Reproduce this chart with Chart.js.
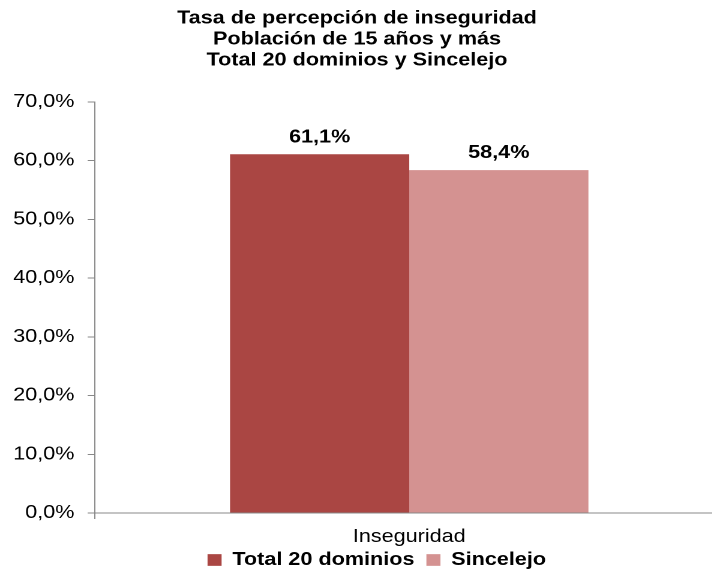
<!DOCTYPE html>
<html><head><meta charset="utf-8">
<script src="https://cdn.jsdelivr.net/npm/chart.js@4"></script>
<style>
html,body{margin:0;padding:0;overflow:hidden;background:#fff;width:712px;height:585px}
#wrap{transform:scaleX(1.2);transform-origin:0 0;width:603px;height:585px}
</style></head><body>
<div id="wrap"><canvas id="c" width="603" height="585"></canvas></div>
<script>
const categories = ['Inseguridad'];
const seriesNames = ['Total 20 dominios', 'Sincelejo'];
const total20 = [61.1];
const sincelejo = [58.4];
const yTickLabels = ['0,0%','10,0%','20,0%','30,0%','40,0%','50,0%','60,0%','70,0%'];
const titleLines = ['Tasa de percepción de inseguridad','Población de 15 años y más','Total 20 dominios y Sincelejo'];
const seriesColors = ['#AA4643','#D49291'];

const FONT = "'Liberation Sans', Arial, sans-serif";
const fmt = v => v.toFixed(1).replace('.', ',') + '%';

const valueLabels = {
  id: 'valueLabels',
  afterDatasetsDraw(chart) {
    const ctx = chart.ctx;
    ctx.save();
    ctx.font = 'bold 18px ' + FONT;
    ctx.fillStyle = '#000';
    ctx.textAlign = 'center';
    ctx.textBaseline = 'alphabetic';
    chart.data.datasets.forEach((ds, i) => {
      chart.getDatasetMeta(i).data.forEach((bar, j) => {
        ctx.fillText(fmt(ds.data[j]), bar.x, bar.y - 12);
      });
    });
    ctx.restore();
  }
};

const shiftBoxes = {
  id: 'shiftBoxes',
  afterLayout(chart) {
    const t = chart.titleBlock;
    if (t) { t.left -= 4; t.right -= 4; }
    const l = chart.legend;
    if (l) { l.top -= 14; l.bottom -= 14; l.left += 12.5; l.right += 12.5; }
  }
};

new Chart(document.getElementById('c'), {
  type: 'bar',
  data: {
    labels: categories,
    datasets: [
      { label: seriesNames[0], data: total20, backgroundColor: seriesColors[0] },
      { label: seriesNames[1], data: sincelejo, backgroundColor: seriesColors[1] }
    ]
  },
  options: {
    responsive: false,
    animation: false,
    devicePixelRatio: 2,
    layout: { padding: { left: 0, right: 0, top: 0, bottom: -8 } },
    datasets: { bar: { categoryPercentage: 0.57, barPercentage: 1.0 } },
    plugins: {
      title: {
        display: true,
        text: titleLines,
        color: '#000',
        font: { family: FONT, size: 18, weight: 'bold', lineHeight: 1.167 },
        padding: { top: 8, bottom: 31 }
      },
      legend: {
        display: true,
        position: 'bottom',
        labels: {
          color: '#000',
          font: { family: FONT, size: 18, weight: 'bold' },
          boxWidth: 11.7,
          boxHeight: 11.7,
          padding: 10
        }
      },
      tooltip: { enabled: false }
    },
    scales: {
      x: {
        grid: { display: true, drawOnChartArea: false, drawTicks: true, tickLength: 6, color: '#888' },
        border: { display: true, color: '#888', width: 1 },
        ticks: { color: '#000', font: { family: FONT, size: 18, lineHeight: 1 }, padding: 9 }
      },
      y: {
        min: 0, max: 70,
        ticks: {
          stepSize: 10,
          color: '#000',
          font: { family: FONT, size: 18 },
          padding: 11,
          callback: (v, i) => yTickLabels[i]
        },
        grid: { display: true, drawOnChartArea: false, drawTicks: true, tickLength: 6, color: '#888' },
        border: { display: true, color: '#888', width: 1 }
      }
    }
  },
  plugins: [valueLabels, shiftBoxes]
});
</script>
</body></html>
